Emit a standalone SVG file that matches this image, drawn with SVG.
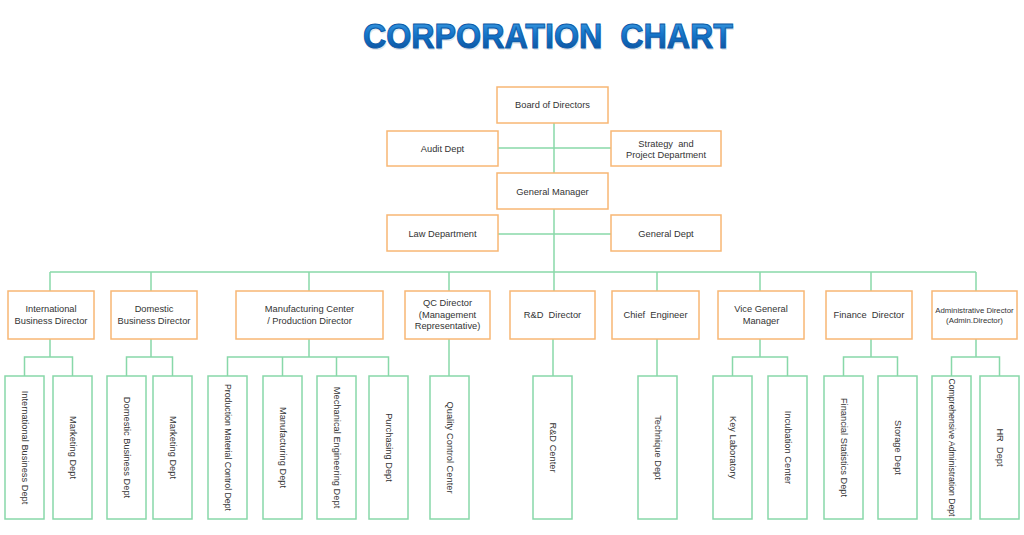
<svg xmlns="http://www.w3.org/2000/svg" width="1024" height="535" viewBox="0 0 1024 535">
<defs>
<linearGradient id="tg" x1="0" y1="0" x2="0" y2="1">
<stop offset="0" stop-color="#4aa6e6"/>
<stop offset="0.45" stop-color="#1677cc"/>
<stop offset="1" stop-color="#0a4a94"/>
</linearGradient>
<style>
.ob{fill:#fff;stroke:#F8B774;stroke-width:1.5}
.gb{fill:#fff;stroke:#88D8A9;stroke-width:1.5}
.t{font-family:"Liberation Sans",Arial,sans-serif;font-size:9.3px;fill:#333;text-anchor:middle;dominant-baseline:central}
.s{font-size:7.8px}
#connectors line,#connectors path{stroke:#88D8A9;stroke-width:1.5;fill:none}
</style>
</defs>
<rect width="1024" height="535" fill="#fff"/>
<text x="548" y="48" font-family="'Liberation Sans',Arial,sans-serif" font-weight="bold" font-size="35" text-anchor="middle" textLength="370" lengthAdjust="spacingAndGlyphs" fill="#c9d6e2" opacity="0.6" transform="translate(1,2)" xml:space="preserve">CORPORATION  CHART</text>
<text x="548" y="48" font-family="'Liberation Sans',Arial,sans-serif" font-weight="bold" font-size="35" text-anchor="middle" textLength="370" lengthAdjust="spacingAndGlyphs" fill="url(#tg)" stroke="#0b5aa8" stroke-width="1" xml:space="preserve">CORPORATION  CHART</text>

<g id="connectors">
<line x1="554" y1="123" x2="554" y2="173"/>
<line x1="498" y1="148" x2="611" y2="148"/>
<line x1="554" y1="209" x2="554" y2="291"/>
<line x1="498" y1="234" x2="611" y2="234"/>
<line x1="50" y1="272" x2="976" y2="272"/>
<line x1="50" y1="272" x2="50" y2="291"/>
<line x1="151" y1="272" x2="151" y2="291"/>
<line x1="309" y1="272" x2="309" y2="291"/>
<line x1="449" y1="272" x2="449" y2="291"/>
<line x1="657" y1="272" x2="657" y2="291"/>
<line x1="760" y1="272" x2="760" y2="291"/>
<line x1="871" y1="272" x2="871" y2="291"/>
<line x1="976" y1="272" x2="976" y2="291"/>
<path d="M50 339V357M24.5 376V357H72.5V376"/>
<path d="M151 339V357M126.5 376V357H172.5V376"/>
<path d="M309 339V357M227.5 376V357H388.5V376M282.5 357V376M336.5 357V376"/>
<line x1="449" y1="339" x2="449" y2="376"/>
<line x1="553" y1="339" x2="553" y2="376"/>
<line x1="657" y1="339" x2="657" y2="376"/>
<path d="M760 339V357M732.5 376V357H787.5V376"/>
<path d="M871 339V357M843.5 376V357H897.5V376"/>
<path d="M976 339V357M951.5 376V357H999.5V376"/>
</g>

<g id="board"><rect class="ob" x="497" y="87" width="111" height="36"/><text class="t" x="552.5" y="105">Board of Directors</text></g>
<g id="audit"><rect class="ob" x="387" y="131" width="111" height="35"/><text class="t" x="442.5" y="149">Audit Dept</text></g>
<g id="strategy"><rect class="ob" x="611" y="131" width="110" height="35"/><text class="t" x="666" y="143.5" xml:space="preserve">Strategy  and</text><text class="t" x="666" y="155">Project Department</text></g>
<g id="gm"><rect class="ob" x="497" y="173" width="111" height="36"/><text class="t" x="552.5" y="192">General Manager</text></g>
<g id="law"><rect class="ob" x="387" y="215" width="111" height="36"/><text class="t" x="442.5" y="234">Law Department</text></g>
<g id="general"><rect class="ob" x="611" y="215" width="110" height="36"/><text class="t" x="666" y="234">General Dept</text></g>

<g id="intl-dir"><rect class="ob" x="8" y="291" width="86" height="48"/><text class="t" x="51" y="309">International</text><text class="t" x="51" y="321">Business Director</text></g>
<g id="dom-dir"><rect class="ob" x="111" y="291" width="86" height="48"/><text class="t" x="154" y="309">Domestic</text><text class="t" x="154" y="321">Business Director</text></g>
<g id="mfg-dir"><rect class="ob" x="236" y="291" width="147" height="48"/><text class="t" x="309.5" y="309">Manufacturing Center</text><text class="t" x="309.5" y="321">/ Production Director</text></g>
<g id="qc-dir"><rect class="ob" x="405" y="291" width="85" height="48"/><text class="t" x="447.5" y="303">QC Director</text><text class="t" x="447.5" y="314.5">(Management</text><text class="t" x="447.5" y="326">Representative)</text></g>
<g id="rd-dir"><rect class="ob" x="510" y="291" width="85" height="48"/><text class="t" x="552.5" y="315" xml:space="preserve">R&amp;D  Director</text></g>
<g id="chief"><rect class="ob" x="612" y="291" width="87" height="48"/><text class="t" x="655.5" y="315" xml:space="preserve">Chief  Engineer</text></g>
<g id="vgm"><rect class="ob" x="718" y="291" width="86" height="48"/><text class="t" x="761" y="309">Vice General</text><text class="t" x="761" y="321">Manager</text></g>
<g id="finance"><rect class="ob" x="826" y="291" width="86" height="48"/><text class="t" x="869" y="315" xml:space="preserve">Finance  Director</text></g>
<g id="admin"><rect class="ob" x="932" y="291" width="85" height="48"/><text class="t s" x="974.5" y="310">Administrative Director</text><text class="t s" x="974.5" y="320">(Admin.Director)</text></g>

<g id="intl-biz"><rect class="gb" x="5" y="376" width="39" height="143"/><text class="t" transform="translate(24.5,447.5) rotate(90)">International Business Dept</text></g>
<g id="mkt1"><rect class="gb" x="53" y="376" width="39" height="143"/><text class="t" transform="translate(72.5,447.5) rotate(90)">Marketing Dept</text></g>
<g id="dom-biz"><rect class="gb" x="107" y="376" width="39" height="143"/><text class="t" transform="translate(126.5,447.5) rotate(90)">Domestic Business Dept</text></g>
<g id="mkt2"><rect class="gb" x="153" y="376" width="39" height="143"/><text class="t" transform="translate(172.5,447.5) rotate(90)">Marketing Dept</text></g>
<g id="pmc"><rect class="gb" x="208" y="376" width="39" height="143"/><text class="t" transform="translate(227.5,447.5) rotate(90)" textLength="127" lengthAdjust="spacingAndGlyphs">Production Material Control Dept</text></g>
<g id="mfg"><rect class="gb" x="263" y="376" width="39" height="143"/><text class="t" transform="translate(282.5,447.5) rotate(90)">Manufacturing Dept</text></g>
<g id="mech"><rect class="gb" x="317" y="376" width="39" height="143"/><text class="t" transform="translate(336.5,447.5) rotate(90)">Mechanical Engineering Dept</text></g>
<g id="purch"><rect class="gb" x="369" y="376" width="39" height="143"/><text class="t" transform="translate(388.5,447.5) rotate(90)">Purchasing Dept</text></g>
<g id="qcc"><rect class="gb" x="430" y="376" width="39" height="143"/><text class="t" transform="translate(449.5,447.5) rotate(90)">Quality Control Center</text></g>
<g id="rdc"><rect class="gb" x="533" y="376" width="39" height="143"/><text class="t" transform="translate(552.5,447.5) rotate(90)">R&amp;D Center</text></g>
<g id="tech"><rect class="gb" x="638" y="376" width="39" height="143"/><text class="t" transform="translate(657.5,447.5) rotate(90)">Technique Dept</text></g>
<g id="keylab"><rect class="gb" x="713" y="376" width="39" height="143"/><text class="t" transform="translate(732.5,447.5) rotate(90)">Key Laboratory</text></g>
<g id="incub"><rect class="gb" x="768" y="376" width="39" height="143"/><text class="t" transform="translate(787.5,447.5) rotate(90)">Incubation Center</text></g>
<g id="finstat"><rect class="gb" x="824" y="376" width="39" height="143"/><text class="t" transform="translate(843.5,447.5) rotate(90)">Financial Statistics Dept</text></g>
<g id="storage"><rect class="gb" x="878" y="376" width="39" height="143"/><text class="t" transform="translate(897.5,447.5) rotate(90)">Storage Dept</text></g>
<g id="compadmin"><rect class="gb" x="932" y="376" width="39" height="143"/><text class="t" transform="translate(951.5,447.5) rotate(90)" textLength="138" lengthAdjust="spacingAndGlyphs">Comprehensive Administration Dept</text></g>
<g id="hr"><rect class="gb" x="980" y="376" width="39" height="143"/><text class="t" transform="translate(999.5,447.5) rotate(90)" xml:space="preserve">HR  Dept</text></g>
</svg>
